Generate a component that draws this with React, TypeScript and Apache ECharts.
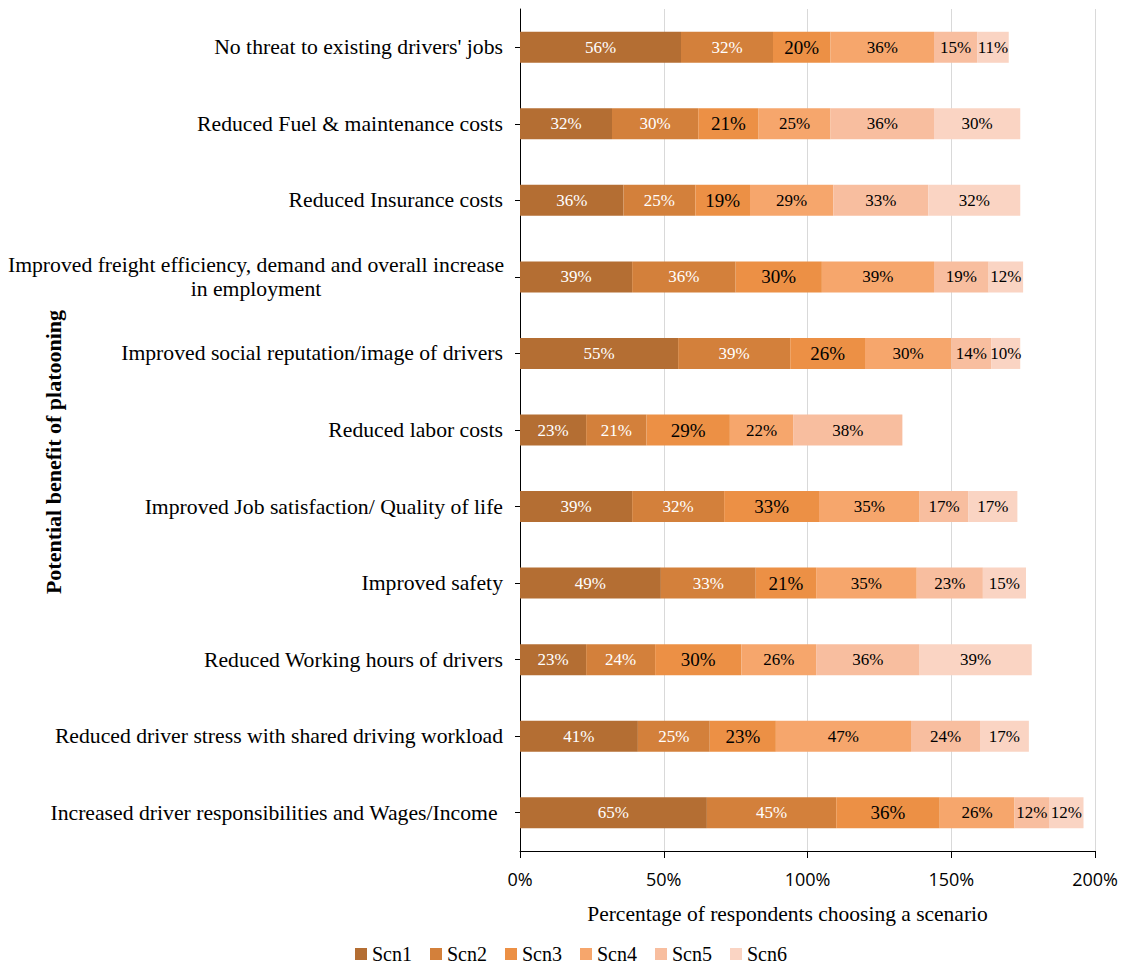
import React, { useEffect, useRef } from "react";
import * as echarts from "echarts";

const categories = [
  "No threat to existing drivers' jobs",
  "Reduced Fuel & maintenance costs",
  "Reduced Insurance costs",
  "Improved freight efficiency, demand and overall increase\nin employment",
  "Improved social reputation/image of drivers",
  "Reduced labor costs",
  "Improved Job satisfaction/ Quality of life",
  "Improved safety",
  "Reduced Working hours of drivers",
  "Reduced driver stress with shared driving workload",
  "Increased driver responsibilities and Wages/Income ",
];

const seriesNames = ["Scn1", "Scn2", "Scn3", "Scn4", "Scn5", "Scn6"];

const scn1 = [56, 32, 36, 39, 55, 23, 39, 49, 23, 41, 65];
const scn2 = [32, 30, 25, 36, 39, 21, 32, 33, 24, 25, 45];
const scn3 = [20, 21, 19, 30, 26, 29, 33, 21, 30, 23, 36];
const scn4 = [36, 25, 29, 39, 30, 22, 35, 35, 26, 47, 26];
const scn5 = [15, 36, 33, 19, 14, 38, 17, 23, 36, 24, 12];
const scn6 = [11, 30, 32, 12, 10, null, 17, 15, 39, 17, 12];

const xTicks = { min: 0, max: 200, interval: 50 };

const colors = ["#B46E33", "#D3803B", "#EC9045", "#F6A66C", "#F8BE9F", "#FAD4C3"];
const labelColors = ["#ffffff", "#ffffff", "#000000", "#000000", "#000000", "#000000"];
const labelSizes = [17, 17, 19, 17, 17, 17];

const SERIF = "'Liberation Serif', 'Times New Roman', serif";

export default function App() {
  const ref = useRef<HTMLDivElement>(null);
  useEffect(() => {
    if (!ref.current) return;
    const chart = echarts.init(ref.current, undefined, { renderer: "svg" });
    const allData = [scn1, scn2, scn3, scn4, scn5, scn6];
    chart.setOption({
      animation: false,
      grid: {
        left: 520,
        right: 29,
        top: 9,
        bottom: 116,
        containLabel: false,
        outerBoundsMode: "none",
      },
      legend: {
        data: seriesNames,
        left: 350,
        top: 939,
        icon: "rect",
        itemWidth: 12,
        itemHeight: 12,
        itemGap: 18,
        textStyle: { fontFamily: SERIF, fontSize: 20, color: "#000", padding: [0, 0, 0, 0] },
      },
      xAxis: {
        type: "value",
        min: xTicks.min,
        max: xTicks.max,
        interval: xTicks.interval,
        name: "Percentage of respondents choosing a scenario",
        nameLocation: "middle",
        nameGap: 52,
        nameMoveOverlap: false,
        nameTextStyle: { fontFamily: SERIF, fontSize: 21.5, color: "#000", padding: [0, 40, 0, 0] },
        axisLine: { show: true, lineStyle: { color: "#000", width: 1 } },
        axisTick: { show: true, length: 7, lineStyle: { color: "#000" } },
        axisLabel: {
          formatter: "{value}%",
          fontFamily: "'Open Sans', sans-serif",
          fontSize: 18,
          color: "#000",
          margin: 19,
        },
        splitLine: { show: true, lineStyle: { color: "#D9D9D9", width: 1 } },
      },
      yAxis: {
        type: "category",
        inverse: true,
        data: categories,
        name: "Potential benefit of platooning",
        nameLocation: "middle",
        nameRotate: 90,
        nameGap: 456,
        nameMoveOverlap: false,
        nameTextStyle: {
          fontFamily: SERIF,
          fontSize: 22,
          fontWeight: "bold",
          color: "#000",
          padding: [0, 44, 0, 0],
        },
        axisLine: { show: true, lineStyle: { color: "#000", width: 1 } },
        axisTick: { show: true, length: 5, alignWithLabel: true, lineStyle: { color: "#000" } },
        axisLabel: {
          fontFamily: SERIF,
          fontSize: 21.7,
          color: "#000",
          margin: 17,
          lineHeight: 24,
          formatter: (v: string) => {
            const lines = v.split("\n");
            if (lines.length > 1) return lines.map((l) => `{c|${l}}`).join("\n");
            return v;
          },
          rich: {
            c: { width: 494, align: "center", fontFamily: SERIF, fontSize: 21.7, color: "#000", lineHeight: 24 },
          },
        },
        splitLine: { show: false },
      },
      series: seriesNames.map((name, i) => ({
        name,
        type: "bar",
        stack: "total",
        barWidth: 31,
        data: allData[i],
        itemStyle: { color: colors[i] },
        label: {
          show: true,
          position: "inside",
          formatter: (p: any) => (p.value == null ? "" : `${p.value}%`),
          fontFamily: SERIF,
          fontSize: labelSizes[i],
          color: labelColors[i],
        },
      })),
    });
    return () => chart.dispose();
  }, []);
  return (
    <div
      ref={ref}
      style={{ position: "absolute", left: 0, top: 0, width: 1124, height: 967 }}
    />
  );
}
